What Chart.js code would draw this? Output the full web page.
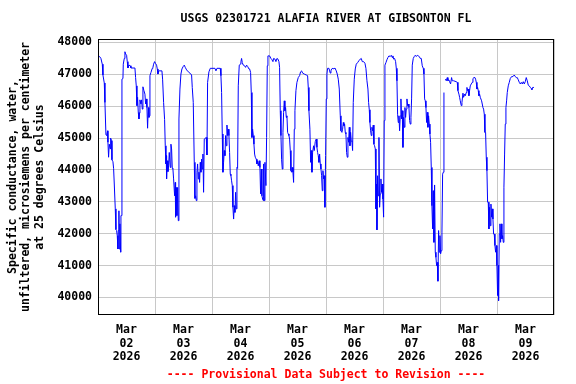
<!DOCTYPE html>
<html>
<head>
<meta charset="utf-8">
<script src="https://cdn.jsdelivr.net/npm/chart.js@4"></script>
<style>html,body{margin:0;padding:0;background:#fff}</style>
</head>
<body>
<canvas id="chart" width="576" height="384"></canvas>
<script>
const siteTitle = 'USGS 02301721 ALAFIA RIVER AT GIBSONTON FL';
const yTitle = ['Specific conductance, water,', 'unfiltered, microsiemens per centimeter', 'at 25 degrees Celsius'];
const footer = '---- Provisional Data Subject to Revision ----';
const monthLabel = 'Mar';
const yearLabel = '2026';
const dayLabels = ['02', '03', '04', '05', '06', '07', '08', '09'];
const yTicks = [40000, 41000, 42000, 43000, 44000, 45000, 46000, 47000, 48000];

// hours since Mar 02 00:00
const hours = [
  // Mar 02 - early Mar 03
  0.11,0.67,1.23,1.8,2.08,2.64,2.92,3.34,3.62,4.04,4.18,4.46,4.74,5.17,5.31,5.73,5.87,6.29,6.57,6.85,7.27,7.55,7.83,8.11,8.39,8.53,8.81,8.95,9.23,9.52,9.66,9.94,10.08,10.5,10.64,11.06,11.34,11.62,12.04,12.32,12.6,13.02,13.59,13.87,15.55,15.83,16.11,16.39,16.67,16.96,17.24,17.52,17.66,18.08,18.36,18.64,18.92,19.34,19.76,20.04,20.32,20.6,20.88,21.17,21.45,21.73,21.87,22.29,22.85,23.13,23.41,23.83,24.25,24.67,24.96,25.24,25.52,26.92,27.2,27.62,28.04,28.32,28.6,28.74,28.88,29.17,29.45,29.73,30.01,30.43,30.71,30.99,31.27,31.55,
  // Mar 03 - Mar 04
  31.83,32.25,32.53,32.67,32.95,33.23,33.52,33.8,34.08,34.5,34.92,35.34,35.9,36.32,36.74,37.31,38.01,38.71,39.41,39.69,40.11,40.53,40.81,41.1,41.38,41.66,41.94,42.22,42.5,42.78,43.06,43.34,43.62,43.9,44.18,44.46,44.74,45.59,45.87,46.15,46.71,47.27,49.24,49.66,50.08,51.48,51.76,52.04,52.32,52.6,52.88,53.17,53.45,53.73,54.01,54.29,54.57,54.85,55.13,55.41,55.69,55.97,56.25,56.53,56.81,57.1,57.38,57.66,57.94,58.22,58.5,58.78,59.06,59.48,59.9,60.18,60.46,60.74,61.17,61.73,62.15,62.57,62.99,63.55,
  // Mar 04 - Mar 05
  63.83,64.25,64.53,64.81,65.1,65.38,65.66,65.94,66.22,66.64,66.92,67.2,67.48,67.9,68.18,68.46,68.74,69.02,69.31,69.59,69.73,70.01,70.29,70.71,70.99,71.27,71.55,72.25,72.81,73.24,73.66,73.94,74.5,74.92,75.34,75.76,76.18,76.46,76.74,77.03,77.31,77.59,77.87,78.15,78.43,78.71,78.99,79.27,79.55,79.83,80.11,80.39,80.67,80.96,81.24,81.52,81.8,82.08,82.36,82.64,82.92,83.34,83.76,84.32,84.88,85.3,85.73,86.15,86.85,87.69,88.25,88.53,88.81,89.23,89.52,89.8,90.08,90.36,90.78,91.06,91.48,91.9,92.18,92.46,92.74,93.03,93.31,93.59,93.87,94.15,94.43,94.71,94.99,95.27,95.55,
  // Mar 06 - Mar 07
  95.83,96.11,96.39,96.67,97.24,97.52,97.8,98.08,98.36,98.92,99.34,99.76,100.32,100.74,101.17,101.59,102.01,102.29,102.71,102.99,103.27,103.55,103.83,104.11,104.39,104.67,104.96,105.24,105.52,105.8,106.08,106.36,106.64,106.92,107.2,107.48,107.9,108.32,108.74,109.31,109.87,110.43,110.85,111.27,111.83,112.39,112.81,113.24,113.66,113.94,114.22,114.5,114.78,115.06,115.34,115.62,115.9,116.18,116.46,116.75,117.03,117.31,117.45,117.73,118.01,118.29,118.57,118.85,119.13,119.41,119.69,119.97,120.25,120.53,120.81,121.24,121.66,122.08,122.5,123.06,123.48,123.9,124.18,124.46,124.88,125.31,125.59,125.87,126.15,126.43,126.71,126.99,127.27,127.55,
  // Mar 07 - Mar 08 (gap after the rise)
  127.83,128.11,128.39,128.67,128.96,129.24,129.52,129.8,130.08,130.36,130.64,130.92,131.2,131.48,131.76,132.04,132.32,132.74,133.17,133.59,134.01,134.43,134.85,135.27,135.69,136.11,136.53,136.96,137.24,137.52,137.8,138.08,138.36,138.64,138.92,139.2,139.48,139.76,140.04,140.32,140.6,140.89,141.17,141.45,141.73,142.01,142.29,142.57,142.85,143.13,143.41,143.69,143.97,144.25,144.54,144.82,145.1,145.38,145.66,
  145.94,
  146.22,146.64,147.06,147.34,147.76,148.04,148.46,148.88,149.17,149.73,150.85,151.27,151.55,151.97,152.25,152.53,152.95,153.24,153.66,153.94,154.36,154.64,155.06,155.34,155.62,155.9,156.18,156.46,156.74,157.17,157.59,157.87,158.29,158.71,158.99,159.27,159.55,
  // Mar 08 - Mar 09
  159.83,160.11,160.39,160.67,160.96,161.52,162.08,162.36,162.64,162.92,163.2,163.48,163.76,164.04,164.32,164.6,164.88,165.17,165.45,165.73,166.01,166.29,166.57,166.85,167.13,167.41,167.69,167.97,168.25,168.53,168.67,168.96,169.24,169.52,169.8,170.08,170.36,170.64,170.92,171.2,171.48,171.76,172.04,172.32,172.74,173.17,173.59,174.15,174.71,175.27,175.69,176.11,176.53,176.96,177.38,177.8,178.22,178.64,179.06,179.48,179.9,180.32,180.74,181.17,181.59,182.01,182.43,182.71,182.99,183.55
];

// specific conductance, uS/cm at 25 C
const spc = [
  47600,47560,47500,47320,46980,46730,46120,45110,45080,45230,44870,44400,44810,44660,45000,44920,44320,44260,44050,43560,42780,42130,42100,41940,41520,42100,42720,41520,42310,41420,42570,42570,46850,46870,47320,47500,47710,47640,47600,47400,47200,47290,47270,47200,47200,46900,46640,46020,46280,45810,45600,45790,46200,46070,46200,45910,46610,46490,46380,46070,46230,45960,45310,45960,45650,45700,46960,47060,47190,47220,47320,47400,47340,47290,47170,47010,47110,47110,46850,46120,45580,44760,44190,44450,43720,44290,43950,44130,44550,44080,44810,44660,44050,44030,
  43720,43190,43610,42520,43450,42570,43450,42410,45600,46540,47010,47170,47250,47290,47220,47140,47080,47040,46980,46590,46120,44240,43110,43190,43040,43930,44190,43720,43930,43610,44240,43930,44340,44030,44500,43300,44970,45020,44470,46750,47080,47190,47190,47110,47190,47190,46960,46430,45130,43930,44240,44610,44450,45080,44760,45410,45080,45280,45080,44550,43870,43820,43660,43510,42830,42460,42880,42670,43300,42780,44080,44050,46640,47290,47320,47400,47500,47370,47290,47270,47220,47290,47250,47170,
  47170,47060,46430,45020,45280,45080,44810,44500,44400,44340,44190,44290,44130,44290,44080,43250,44030,43190,43090,43040,44190,43040,44240,43510,45020,47270,47580,47580,47500,47460,47400,47500,47480,47400,47500,47480,47400,47220,45860,45080,44320,44030,45180,45810,46170,45860,45960,45650,45700,45180,45130,45080,44970,44610,43980,43930,44080,43930,43610,45280,45860,46490,46750,46900,46960,47080,47110,47040,47010,46980,46960,46590,45860,45280,44240,44610,43930,44550,44760,44610,44890,44970,44710,44550,44450,44240,44500,44190,44030,43820,43350,43980,43720,43820,42830,
  44450,46230,47010,47190,47190,47110,47040,47110,47170,47190,47170,47200,47110,47010,46850,46540,45700,45230,45180,45280,45490,45390,45440,45180,45130,44550,44400,45020,44870,45340,44760,45180,44920,44890,44610,46120,46850,47170,47320,47370,47430,47480,47500,47400,47400,47350,47190,46800,46540,46120,45890,45490,45230,45080,45340,45230,45410,44810,44760,44660,42780,43560,42120,43820,43190,45020,42830,43250,43720,43300,43560,43090,42520,45550,47290,47370,47460,47530,47580,47560,47600,47530,47580,47480,47500,47400,47190,46800,45750,45490,45700,45230,45700,46230,
  45600,45860,44710,45650,45340,45960,45650,45910,46230,46020,46070,45960,45550,45440,45650,46230,47290,47500,47560,47600,47560,47600,47580,47560,47500,47500,47270,47190,47010,46230,46170,45960,45490,45810,45340,45700,45440,45130,44870,44080,42880,42150,43350,41730,43530,41420,41260,41000,41100,40510,42100,41420,41940,41370,41470,42050,43870,43930,46430,
  null,
  46850,46800,46900,46800,46830,46770,46700,46900,46800,46800,46770,46750,46490,46380,46280,46170,46020,46120,46410,46280,46380,46330,46430,46590,46490,46540,46330,46490,46640,46700,46750,46870,46900,46900,46850,46750,46540,
  46590,46490,46330,46380,46280,46170,45960,45910,45750,45180,45180,44400,43980,42990,42990,42150,42830,42250,42930,42520,42780,42460,41990,41990,41630,41420,41630,41000,40060,41000,39900,41990,42310,41730,42310,41840,41940,41730,43460,44500,45440,45960,46170,46430,46640,46750,46870,46930,46930,46980,46930,46900,46900,46830,46750,46700,46750,46700,46770,46700,46770,46900,46800,46660,46640,46590,46560,46520,46590,46590
];

const FONT = '"DejaVu Sans Mono", "Liberation Mono", monospace';
const tickFont = {family: FONT, size: 11.5, weight: 'bold', lineHeight: 1.2};

// title, axis title, footer and the black frame round the plot
const decor = {
  id: 'decor',
  afterDraw(chart){
    const {ctx, chartArea: a} = chart;
    const cx = (a.left + a.right) / 2;
    ctx.save();
    ctx.strokeStyle = '#000';
    ctx.lineWidth = 1;
    ctx.strokeRect(a.left + 0.5, a.top + 0.5, a.right - a.left - 1, a.bottom - a.top - 1);

    ctx.font = 'bold 11.5px ' + FONT;
    ctx.textAlign = 'center';
    ctx.textBaseline = 'middle';
    ctx.fillStyle = '#000';
    ctx.fillText(siteTitle, cx, 19);

    yTitle.forEach((line, i) => {
      ctx.save();
      ctx.translate(13 + i * 13.5, 177);
      ctx.rotate(-Math.PI / 2);
      ctx.fillText(line, 0, 0);
      ctx.restore();
    });

    ctx.fillStyle = '#ff0000';
    ctx.fillText(footer, cx, 375);
    ctx.restore();
  }
};

new Chart(document.getElementById('chart'), {
  type: 'line',
  data: {
    datasets: [{
      data: hours.map((h, i) => ({x: h, y: spc[i]})),
      borderColor: '#0000ff',
      borderWidth: 1,
      pointRadius: 0,
      tension: 0,
      spanGaps: false
    }]
  },
  options: {
    responsive: false,
    animation: false,
    devicePixelRatio: 1,
    layout: {padding: {left: 0, top: 39, right: 22, bottom: 19}},
    plugins: {legend: {display: false}, tooltip: {enabled: false}},
    scales: {
      x: {
        type: 'linear',
        min: 0,
        max: dayLabels.length * 24,
        afterBuildTicks: s => {
          const t = [];
          for (let k = 0; k <= dayLabels.length * 2; k++) t.push({value: k * 12});
          s.ticks = t;
        },
        afterFit: s => { s.height = 50; },
        border: {display: false},
        grid: {
          drawTicks: false,
          lineWidth: 1,
          color: c => (c.tick && c.tick.value % 24 === 0) ? '#c8c8c8' : 'rgba(0,0,0,0)'
        },
        ticks: {
          autoSkip: false,
          maxRotation: 0,
          minRotation: 0,
          padding: 8,
          color: '#000',
          font: tickFont,
          callback: v => v % 24 === 12 ? [monthLabel, dayLabels[(v - 12) / 24], yearLabel] : ''
        }
      },
      y: {
        type: 'linear',
        min: 39450,
        max: 48110,
        afterBuildTicks: s => { s.ticks = yTicks.map(v => ({value: v})); },
        afterFit: s => { s.width = 98; },
        border: {display: false},
        grid: {drawTicks: false, lineWidth: 1, color: '#c8c8c8'},
        ticks: {
          padding: 6,
          color: '#000',
          font: tickFont,
          callback: v => String(v)
        }
      }
    }
  },
  plugins: [decor]
});
</script>
</body>
</html>
